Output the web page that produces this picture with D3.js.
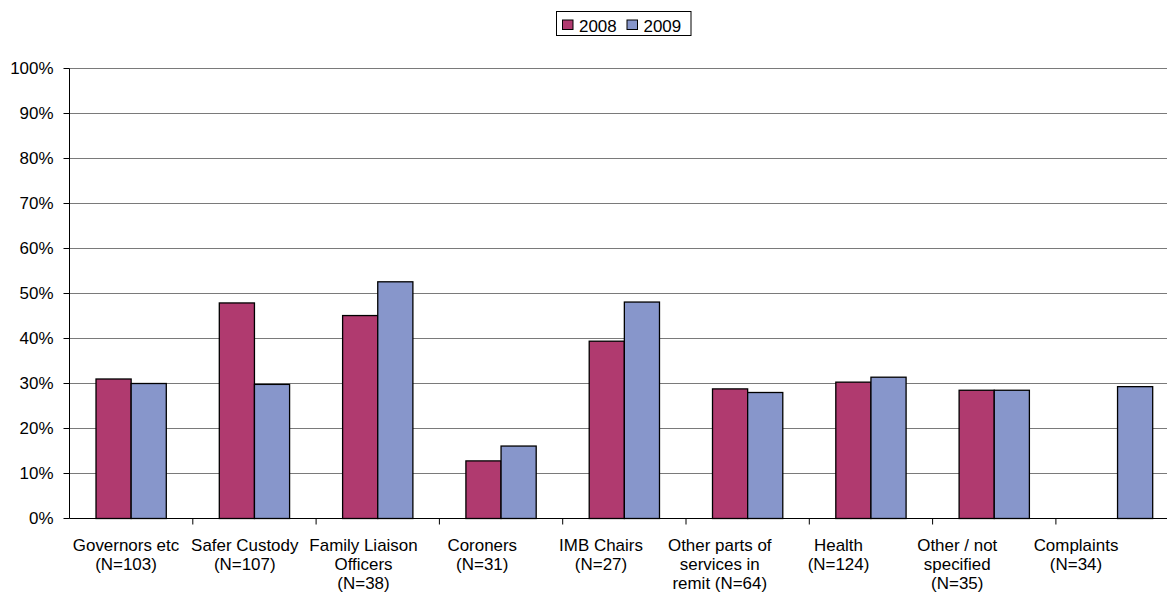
<!DOCTYPE html>
<html>
<head>
<meta charset="utf-8">
<script src="https://cdn.jsdelivr.net/npm/d3@7/dist/d3.min.js"></script>
<style>
  html, body { margin: 0; padding: 0; background: #fff; }
  svg { display: block; }
  text { font-family: "Liberation Sans", Arial, sans-serif; fill: #000; }
</style>
</head>
<body>
<script>
// Share of respondents per group, by survey year
const categories = [
  ["Governors etc", "(N=103)"],
  ["Safer Custody", "(N=107)"],
  ["Family Liaison", "Officers", "(N=38)"],
  ["Coroners", "(N=31)"],
  ["IMB Chairs", "(N=27)"],
  ["Other parts of", "services in", "remit (N=64)"],
  ["Health", "(N=124)"],
  ["Other / not", "specified", "(N=35)"],
  ["Complaints", "(N=34)"]
];
const years = ["2008", "2009"];
const values2008 = [31.0, 47.9, 45.1, 12.8, 39.4, 28.8, 30.3, 28.5, null];
const values2009 = [30.0, 29.8, 52.6, 16.1, 48.1, 28.0, 31.4, 28.5, 29.3];
const yTicks = [0, 10, 20, 30, 40, 50, 60, 70, 80, 90, 100];

const colors = { "2008": "#B03A6F", "2009": "#8796CB" };
const W = 1167, H = 592;
const plotLeft = 69.5, plotTop = 68.5, plotBottom = 518.5, plotRight = 1179.2;
const stretch = 1.06;

const svg = d3.select("body").append("svg")
  .attr("width", W).attr("height", H);

const keys = categories.map((c, i) => i);
const y = d3.scaleLinear().domain([0, 100]).range([plotBottom, plotTop]);
const x0 = d3.scaleBand().domain(keys).range([plotLeft, plotRight])
  .paddingInner(0.43).paddingOuter(0.215);
const x1 = d3.scaleBand().domain(years).range([0, x0.bandwidth()]);
const labelX = d3.scalePoint().domain(keys).range([126, 1076]);

// horizontal gridlines
svg.append("g").selectAll("line").data(yTicks.filter(t => t > 0)).join("line")
  .attr("x1", plotLeft).attr("x2", plotRight)
  .attr("y1", d => y(d)).attr("y2", d => y(d))
  .attr("stroke", "#7a7a7a").attr("stroke-width", 1);

// y axis ticks and labels
const yg = svg.append("g");
yg.selectAll("line").data(yTicks).join("line")
  .attr("x1", plotLeft - 6).attr("x2", plotLeft)
  .attr("y1", d => y(d)).attr("y2", d => y(d))
  .attr("stroke", "#000");
yg.selectAll("text").data(yTicks).join("text")
  .attr("transform", d => `translate(53.5,${y(d) + 5.8}) scale(${stretch},1)`)
  .attr("text-anchor", "end")
  .attr("font-size", 16)
  .text(d => d + "%");

// bars
const rows = keys.map(i => ({ i, vals: [values2008[i], values2009[i]] }));
svg.append("g").selectAll("g").data(rows).join("g")
  .attr("transform", d => `translate(${x0(d.i)},0)`)
  .selectAll("rect")
  .data(d => years.map((yr, k) => ({ yr, v: d.vals[k] })).filter(e => e.v != null))
  .join("rect")
  .attr("x", d => x1(d.yr))
  .attr("width", x1.bandwidth())
  .attr("y", d => y(d.v))
  .attr("height", d => y(0) - y(d.v))
  .attr("fill", d => colors[d.yr])
  .attr("stroke", "#000").attr("stroke-width", 1.3);

// axes lines
svg.append("line").attr("x1", plotLeft).attr("x2", plotLeft)
  .attr("y1", plotTop).attr("y2", plotBottom).attr("stroke", "#000");
svg.append("line").attr("x1", plotLeft).attr("x2", plotRight)
  .attr("y1", plotBottom).attr("y2", plotBottom).attr("stroke", "#000");

// category separators on x axis
const step = x0.step();
svg.append("g").selectAll("line").data(keys.slice(1)).join("line")
  .attr("x1", d => x0(d) - x0.paddingOuter() * step)
  .attr("x2", d => x0(d) - x0.paddingOuter() * step)
  .attr("y1", plotBottom).attr("y2", plotBottom + 6)
  .attr("stroke", "#000");

// category labels
const lbl = svg.append("g").selectAll("g").data(keys).join("g");
lbl.selectAll("text")
  .data(i => categories[i].map((t, k) => ({ t, k, i })))
  .join("text")
  .attr("transform", d => `translate(${labelX(d.i)},${550.7 + d.k * 19.3}) scale(${stretch},1)`)
  .attr("text-anchor", "middle")
  .attr("font-size", 16)
  .text(d => d.t);

// legend
const lg = svg.append("g");
lg.append("rect").attr("x", 556.5).attr("y", 11.5).attr("width", 134.5).attr("height", 24)
  .attr("fill", "#fff").attr("stroke", "#000");
const legendX = [562.5, 627];
years.forEach((yr, k) => {
  lg.append("rect").attr("x", legendX[k]).attr("y", 20).attr("width", 10.5).attr("height", 9.5)
    .attr("fill", colors[yr]).attr("stroke", "#000");
  lg.append("text")
    .attr("transform", `translate(${legendX[k] + 16.5},31.7) scale(${stretch},1)`)
    .attr("font-size", 16)
    .text(yr);
});
</script>
</body>
</html>
